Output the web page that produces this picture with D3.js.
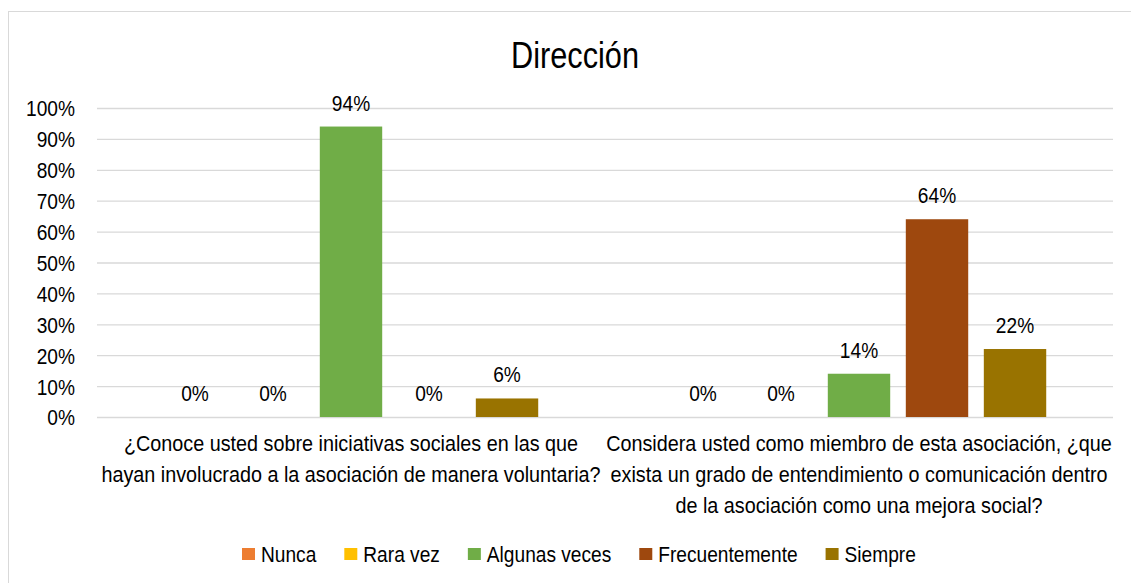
<!DOCTYPE html>
<html>
<head>
<meta charset="utf-8">
<script src="https://cdn.jsdelivr.net/npm/d3@7"></script>
<style>
  body { margin: 0; background: #fff; }
  svg text { font-family: "Liberation Sans", Arial, sans-serif; fill: #000; }
</style>
</head>
<body>
<div id="chart"></div>
<script>
'use strict';

const title = 'Dirección';
const series = ['Nunca', 'Rara vez', 'Algunas veces', 'Frecuentemente', 'Siempre'];
const colors = ['#ED7D31', '#FFC000', '#70AD47', '#9E480E', '#997300'];
const categories = ['q1', 'q2'];
const categoryLines = [
    ['¿Conoce usted sobre iniciativas sociales en las que', 'hayan involucrado a la asociación de manera voluntaria?'],
    ['Considera usted como miembro de esta asociación, ¿que', 'exista un grado de entendimiento o comunicación dentro', 'de la asociación como una mejora social?']
];
const valuesQ1 = [0, 0, 0.94, 0, 0.06];
const valuesQ2 = [0, 0, 0.14, 0.64, 0.22];
const yTicks = [0, 0.1, 0.2, 0.3, 0.4, 0.5, 0.6, 0.7, 0.8, 0.9, 1];

const width = 1131, height = 583;
const plot = { left: 97, right: 1113, top: 108, bottom: 417 };
const narrow = 0.87;   // the original uses a condensed face
const pct = d3.format('.0%');

const svg = d3.select('#chart').append('svg')
    .attr('width', width)
    .attr('height', height);

// chart frame
svg.append('rect')
    .attr('x', 8.5).attr('y', 11.5)
    .attr('width', width).attr('height', height)
    .attr('fill', 'none')
    .attr('stroke', '#d9d9d9');

svg.append('text')
    .attr('transform', `translate(575,68) scale(0.83,1)`)
    .attr('text-anchor', 'middle')
    .style('font-size', '37px')
    .text(title);

const x0 = d3.scaleBand().domain(categories).range([plot.left, plot.right]).padding(0);
const x1 = d3.scaleBand().domain(series).range([0, x0.bandwidth()])
    .paddingInner(0.2).paddingOuter(0.856);
const y = d3.scaleLinear().domain([0, 1]).range([plot.bottom, plot.top]);

// gridlines + y labels
const yAxis = svg.append('g')
    .attr('transform', `translate(${plot.left},0)`)
    .call(d3.axisLeft(y).tickValues(yTicks).tickFormat(pct)
        .tickSize(-(plot.right - plot.left)).tickPadding(22));
yAxis.select('.domain').remove();
yAxis.selectAll('.tick line').attr('stroke', '#d9d9d9').attr('stroke-width', 1.3);
yAxis.selectAll('.tick text')
    .style('font-size', '22px')
    .attr('x', -22 / narrow)
    .attr('dy', '0.36em')
    .attr('transform', `scale(${narrow},1)`);

const table = categories.map((c, i) => ({
    cat: c,
    vals: series.map((s, j) => ({ s, j, v: [valuesQ1, valuesQ2][i][j] }))
}));

const groups = svg.selectAll('g.cat')
    .data(table)
    .join('g')
    .attr('class', 'cat')
    .attr('transform', d => `translate(${x0(d.cat)},0)`);

groups.selectAll('rect')
    .data(d => d.vals)
    .join('rect')
    .attr('x', d => x1(d.s))
    .attr('y', d => y(d.v))
    .attr('width', x1.bandwidth())
    .attr('height', d => plot.bottom - y(d.v))
    .attr('fill', d => colors[d.j]);

groups.selectAll('text.lbl')
    .data(d => d.vals)
    .join('text')
    .attr('class', 'lbl')
    .attr('transform', d => `translate(${x1(d.s) + x1.bandwidth() / 2},${y(d.v) - 16}) scale(${narrow},1)`)
    .attr('text-anchor', 'middle')
    .style('font-size', '22px')
    .text(d => pct(d.v));

// category labels
const xLab = svg.append('g');
categories.forEach((c, i) => {
    xLab.append('text')
        .attr('text-anchor', 'middle')
        .attr('transform', `translate(${x0(c) + x0.bandwidth() / 2},451) scale(0.9,1)`)
        .style('font-size', '22px')
        .selectAll('tspan')
        .data(categoryLines[i])
        .join('tspan')
        .attr('x', 0)
        .attr('dy', (d, k) => k === 0 ? 0 : 31)
        .text(d => d);
});

// legend
const legend = svg.append('g');
let lx = 242;
series.forEach((s, i) => {
    legend.append('rect')
        .attr('x', lx).attr('y', 548)
        .attr('width', 13).attr('height', 12)
        .attr('fill', colors[i]);
    const t = legend.append('text')
        .attr('transform', `translate(${lx + 19},562) scale(${narrow},1)`)
        .style('font-size', '22px')
        .text(s);
    lx += 19 + t.node().getComputedTextLength() * narrow + 28;
});
</script>
</body>
</html>
